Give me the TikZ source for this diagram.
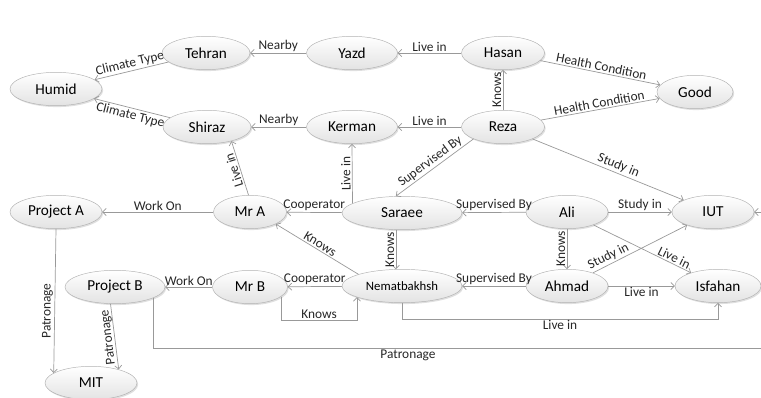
\documentclass[tikz,border=0pt]{standalone}
\usepackage{fontspec}
\setmainfont{Carlito}
\usetikzlibrary{shapes.geometric, arrows.meta, shadows}

\begin{document}
\begin{tikzpicture}[x=0.03cm, y=-0.03cm,
    entity/.style={ellipse, draw=gray!60, top color=white, bottom color=gray!22,
        drop shadow={opacity=0.25, shadow xshift=1pt, shadow yshift=-1.2pt},
        minimum height=1cm, inner sep=1pt, font=\fontsize{13}{15}\selectfont},
    rel/.style={draw=gray!80, line width=0.6pt, -{Straight Barb[length=3pt, width=6pt]}},
    lbl/.style={font=\fontsize{11.4}{13}\selectfont, inner sep=1.2pt, text=black!85},
    vlbl/.style={lbl, rotate=90, anchor=south}]

% Define a variable for the pixel size
\def\px{0.03cm}

\useasboundingbox (0,0) rectangle (761,398);
\clip (0,0) rectangle (761,398);

% Cities and climate
\node[entity, minimum width=92*\px] (humid) at (56,89) {Humid};
\node[entity, minimum width=88*\px] (tehran) at (206,53) {Tehran};
\node[entity, minimum width=91*\px] (yazd) at (352,53) {Yazd};
\node[entity, minimum width=88*\px] (shiraz) at (207,127) {Shiraz};
\node[entity, minimum width=91*\px] (kerman) at (352,127) {Kerman};
\node[entity, minimum width=86*\px] (isfahan) at (718,286) {Isfahan};
\node[entity, minimum width=82*\px] (iut) at (713,212) {IUT};
\node[entity, minimum width=76*\px] (good) at (695,92) {Good};

% People
\node[entity, minimum width=83*\px] (hasan) at (503,53) {Hasan};
\node[entity, minimum width=83*\px] (reza) at (503,127) {Reza};
\node[entity, minimum width=73*\px] (mra) at (250,212) {Mr A};
\node[entity, minimum width=120*\px] (saraee) at (402,213) {Saraee};
\node[entity, minimum width=82*\px] (ali) at (567,212) {Ali};
\node[entity, minimum width=75*\px] (mrb) at (250,287) {Mr B};
\node[entity, minimum width=120*\px, font=\fontsize{10.9}{12}\selectfont] (nemat) at (402,286) {Nematbakhsh};
\node[entity, minimum width=82*\px] (ahmad) at (567,286) {Ahmad};

% Projects
\node[entity, minimum width=92*\px] (proja) at (56,212) {Project A};
\node[entity, minimum width=100*\px] (projb) at (115,287) {Project B};
\node[entity, minimum width=92*\px] (mit) at (91,383) {MIT};

% Climate and nearby cities
\draw[rel] (tehran) -- node[lbl, sloped, above] {Climate Type} (humid);
\draw[rel] (shiraz) -- node[lbl, sloped, below] {Climate Type} (humid);
\draw[rel] (yazd) -- node[lbl, above] {Nearby} (tehran);
\draw[rel] (kerman) -- node[lbl, above] {Nearby} (shiraz);

% Hasan and Reza
\draw[rel] (hasan) -- node[lbl, above] {Live in} (yazd);
\draw[rel] (reza) -- node[lbl, above] {Live in} (kerman);
\draw[rel] (hasan) -- node[lbl, sloped, above] {Health Condition} (good);
\draw[rel] (reza) -- node[lbl, sloped, above] {Health Condition} (good);
\draw[rel] (reza) -- node[lbl, sloped, allow upside down, above] {Knows} (hasan);
\draw[rel] (reza) -- node[lbl, sloped, above, pos=0.55] {Study in} (iut);
\draw[rel] (reza.-158) -- node[lbl, sloped, above] {Supervised By} (saraee.110);

% Saraee, Mr A and Ali
\draw[rel] (mra.95) -- node[lbl, sloped, allow upside down, above] {Live in} (shiraz.-30);
\draw[rel] (saraee.169) -- node[lbl, sloped, allow upside down, above] {Live in} (kerman.south);
\draw[rel] (saraee) -- node[lbl, above] {Cooperator} (mra);
\draw[rel] (mra) -- node[lbl, above] {Work On} (proja);
\draw[rel] (ali) -- node[lbl, above] {Supervised By} (saraee);
\draw[rel] (ali) -- node[lbl, above] {Study in} (iut);
\draw[rel] (ali) -- node[lbl, sloped, above, pos=0.8] {Live in} (isfahan);
\draw[rel] (ali) -- node[vlbl] {Knows} (ahmad);
\draw[rel] (saraee.250) -- node[vlbl] {Knows} (nemat.110);

% Nematbakhsh, Mr B and Ahmad
\draw[rel] (nemat.165) -- node[lbl, sloped, above] {Knows} (mra.-25);
\draw[rel] (nemat) -- node[lbl, above] {Cooperator} (mrb);
\draw[rel] (mrb) -- node[lbl, above] {Work On} (projb);
\draw[rel] (mrb.-17) -- ++(0,24) -| node[lbl, above, pos=0.25] {Knows} (nemat.194);
\draw[rel] (ahmad) -- node[lbl, above] {Supervised By} (nemat);
\draw[rel] (ahmad) -- node[lbl, sloped, above, pos=0.2] {Study in} (iut);
\draw[rel] (ahmad) -- node[lbl, below] {Live in} (isfahan);
\draw[rel] (nemat.south) -- ++(0,16) -| node[lbl, below, pos=0.25] {Live in} (isfahan.south);

% Patronage of the projects
\coordinate (patcorner) at (790,348);
\draw[rel] (proja.south) -- node[vlbl, pos=0.57] {Patronage} (mit.165);
\draw[rel] (projb.-105) -- node[lbl, rotate=97, anchor=south, inner sep=0.3pt] {Patronage} (mit.26);
\draw[rel] (projb.-16) |- node[lbl, below, pos=0.7] {Patronage} (patcorner) |- (iut.east);

\end{tikzpicture}
\end{document}
